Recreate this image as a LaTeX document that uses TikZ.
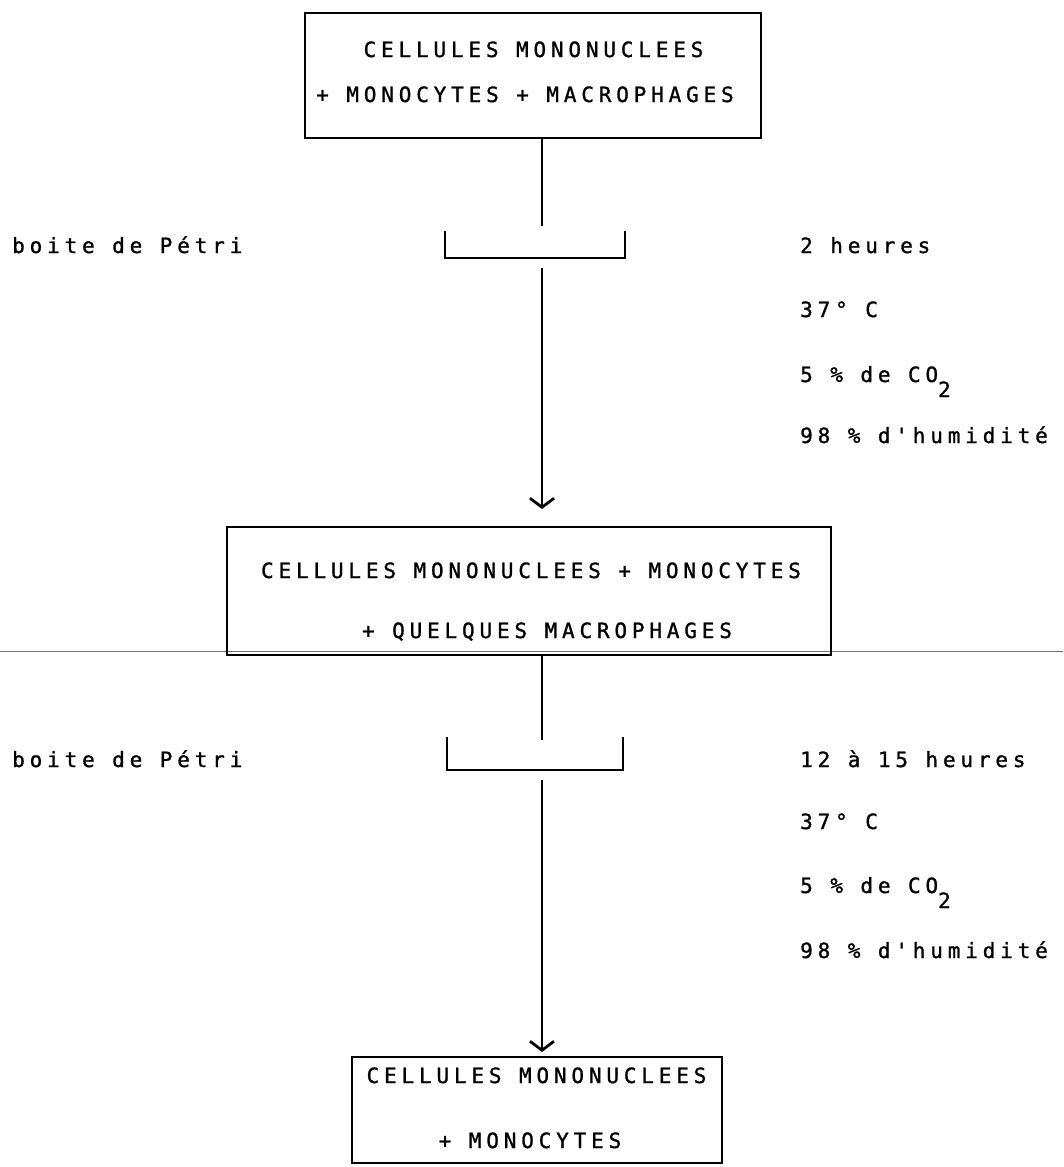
\documentclass[tikz,border=0pt]{standalone}
\usepackage{fontspec}
\newfontfamily\tw[LetterSpace=23,FakeBold=1.2]{DejaVu Sans Mono}
\usetikzlibrary{arrows.meta}
\begin{document}
\begin{tikzpicture}[x=1pt,y=-1pt,
  lbl/.style={anchor=base west, inner sep=0pt, font=\tw\fontsize{21}{25}\selectfont},
  ctxt/.style={anchor=base, inner sep=0pt, font=\tw\fontsize{21}{25}\selectfont},
  cellbox/.style={draw, line width=2.8pt, inner sep=0pt},
  conn/.style={line width=2.6pt},
  dish/.style={line width=2.8pt, line join=miter},
  arr/.style={conn, -{Straight Barb[length=9pt,width=24pt,line width=2.8pt]}},
  scanline/.style={black!55, line width=0.8pt}
]
\useasboundingbox (0,0) rectangle (1063,1167);
\coordinate (sl1) at (0,651);
\coordinate (sl2) at (1063,651);
\draw[scanline] (sl1) -- (sl2);

% boxes
\node[cellbox, minimum width=456pt, minimum height=125pt] (b1) at (533,75.5) {};
\node[cellbox, minimum width=604pt, minimum height=128pt] (b2) at (529,591) {};
\node[cellbox, minimum width=370pt, minimum height=106pt] (b3) at (537,1110) {};

\node[ctxt] (t11) at (533.5,57) {CELLULES MONONUCLEES};
\node[ctxt] (t12) at (525,102) {+ MONOCYTES + MACROPHAGES};
\node[ctxt] (t21) at (531,578) {CELLULES MONONUCLEES + MONOCYTES};
\node[ctxt] (t22) at (547,638) {+ QUELQUES MACROPHAGES};
\node[ctxt] (t31) at (536.5,1083) {CELLULES MONONUCLEES};
\node[ctxt] (t32) at (530,1148) {+ MONOCYTES};

% petri dishes
\draw[dish] (445,231) -- (445,258) -- (625,258) -- (625,231);
\draw[dish] (447,737) -- (447,770) -- (623,770) -- (623,737);

% connectors
\coordinate (d1in) at (542,226);
\coordinate (d1out) at (542,268);
\coordinate (a1end) at (542,509);
\draw[conn] (b1.south -| d1in) -- (d1in);
\draw[arr] (d1out) -- (a1end);

\coordinate (d2in) at (542,740);
\coordinate (d2out) at (542,780);
\coordinate (a2end) at (542,1052);
\draw[conn] (b2.south -| d2in) -- (d2in);
\draw[arr] (d2out) -- (a2end);

% left labels
\node[lbl] (p1) at (12,253) {boite de Pétri};
\node[lbl] (p2) at (12,767) {boite de Pétri};

% right labels
\node[lbl] (r11) at (800,253) {2 heures};
\node[lbl] (r12) at (800,317) {37° C};
\node[lbl] (r13) at (800,382) {5 \% de CO\raisebox{-15pt}{2}};
\node[lbl] (r14) at (800,443) {98 \% d'humidité};
\node[lbl] (r21) at (800,767) {12 à 15 heures};
\node[lbl] (r22) at (800,829) {37° C};
\node[lbl] (r23) at (800,893) {5 \% de CO\raisebox{-15pt}{2}};
\node[lbl] (r24) at (800,958) {98 \% d'humidité};
\end{tikzpicture}
\end{document}
